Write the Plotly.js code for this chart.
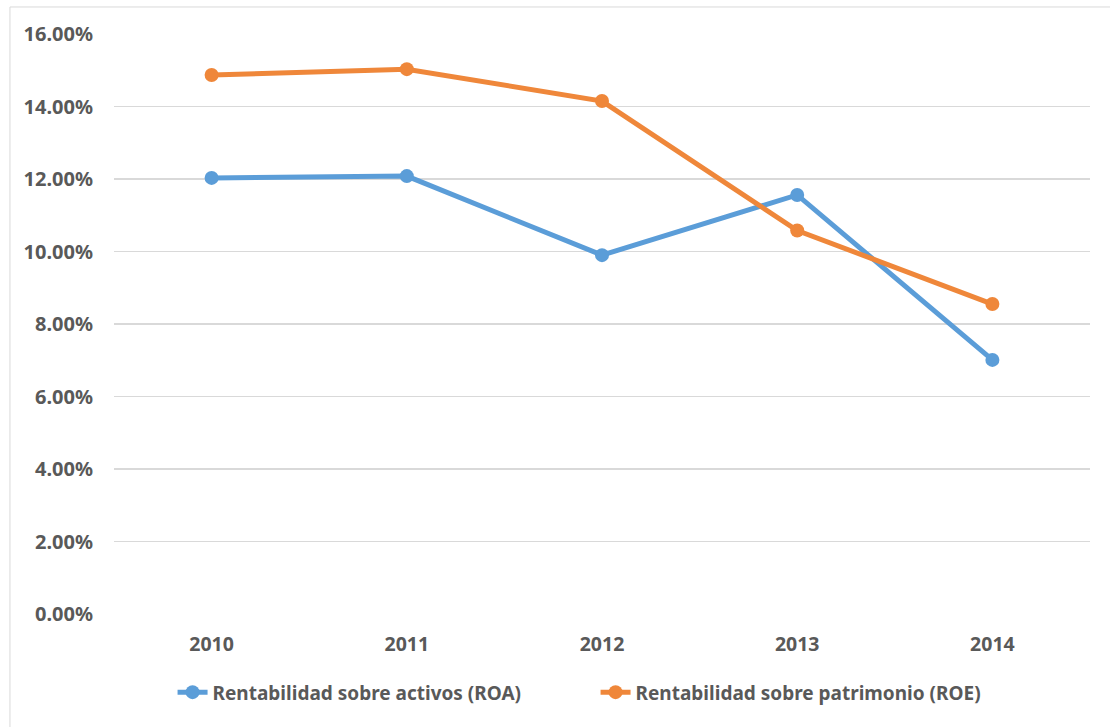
<!DOCTYPE html>
<html>
<head>
<meta charset="utf-8">
<script src="https://cdn.plot.ly/plotly-3.0.1.min.js"></script>
<style>html,body{margin:0;padding:0;background:#fff;}#chart{width:1110px;height:727px;}</style>
</head>
<body>
<div id="chart"></div>
<script>
const years = ['2010', '2011', '2012', '2013', '2014'];
const roa = [0.1203, 0.1208, 0.0990, 0.1156, 0.0701];
const roe = [0.1487, 0.1503, 0.1415, 0.1058, 0.0855];
const roaName = 'Rentabilidad sobre activos (ROA)';
const roeName = 'Rentabilidad sobre patrimonio (ROE)';
const yTicks = [0, 0.02, 0.04, 0.06, 0.08, 0.10, 0.12, 0.14, 0.16];

const fam = '"Noto Sans", "Open Sans", sans-serif';
const grey = '#595959';
const blue = '#5B9DD8';
const orange = '#EF873A';

const traces = [
  {x: years, y: roa, name: roaName, type: 'scatter', mode: 'lines+markers',
   line: {color: blue, width: 5}, marker: {color: blue, size: 14}},
  {x: years, y: roe, name: roeName, type: 'scatter', mode: 'lines+markers',
   line: {color: orange, width: 5}, marker: {color: orange, size: 14}}
];

const layout = {
  width: 1110, height: 727,
  margin: {l: 114, r: 20, t: 34, b: 113},
  paper_bgcolor: '#ffffff', plot_bgcolor: '#ffffff',
  font: {family: fam, size: 19, color: grey},
  showlegend: true,
  legend: {orientation: 'h', x: 0.06, xanchor: 'left', y: -0.135, yanchor: 'middle',
           font: {family: fam, size: 19, color: grey, weight: 'bold'},
           entrywidth: 378, entrywidthmode: 'pixels',
           traceorder: 'normal'},
  xaxis: {type: 'category', range: [-0.5, 4.5], showgrid: false, zeroline: false,
          showline: false, ticks: '', ticklabelstandoff: 16,
          tickfont: {family: fam, size: 19.5, color: grey, weight: 'bold'}},
  yaxis: {range: [0, 0.16], tickvals: yTicks, tickformat: '.2%', showgrid: true,
          gridcolor: '#d9d9d9', gridwidth: 1.3, zeroline: false, showline: false, ticks: '',
          ticklabelstandoff: 20,
          tickfont: {family: fam, size: 20, color: grey, weight: 'bold'}},
  shapes: [{type: 'rect', xref: 'paper', yref: 'paper', x0: -0.1066, x1: 1.031, y0: -0.217, y1: 1.0466,
            line: {color: '#d9d9d9', width: 1}, fillcolor: 'rgba(0,0,0,0)', layer: 'below'}]
};

Plotly.newPlot('chart', traces, layout, {displayModeBar: false, staticPlot: true});
</script>
</body>
</html>
